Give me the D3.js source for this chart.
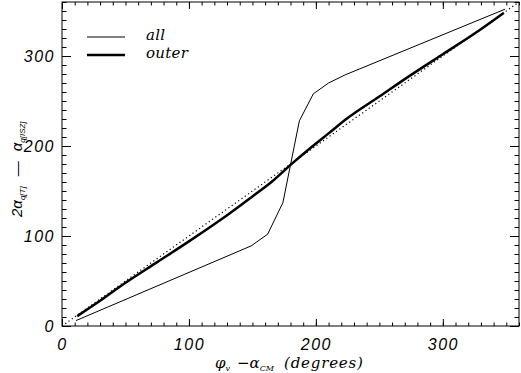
<!DOCTYPE html>
<html>
<head>
<meta charset="utf-8">
<script src="https://cdn.jsdelivr.net/npm/d3@7"></script>
<style>
	body { margin: 0; background: #fff; }
	svg { display: block; }
	.lbl { font-style: italic; fill: #000; }
</style>
</head>
<body>
<div id="chart"></div>
<script>
var width = 521;
var height = 373;

// "all" (thin line): x = phi_v - alpha_CM, y = 2 alpha_q[T] - alpha_q[ISZ]
var allX = [11, 149, 162, 174, 187, 198, 210, 223, 349];
var allY = [6, 89, 102, 137, 228, 258, 270, 279, 352];

// "outer" (thick line)
var outerX = [12, 30, 50, 75, 100, 125, 150, 165, 180, 195, 210, 225, 250, 275, 300, 325, 348];
var outerY = [11, 28, 48, 71, 94, 118, 144, 160, 179, 197, 214, 231, 255, 279, 302, 325, 348];

var majorTicks = [0, 100, 200, 300];
var minorTicks = d3.range(0, 361, 10);

var margin = { left: 62, top: 2, right: 2, bottom: 47 };
var sans = "'Liberation Sans', sans-serif";
var serif = "'DejaVu Serif', serif";

var svg = d3.select("#chart")
	.append("svg")
		.attr("width", width)
		.attr("height", height)
	;

svg.append("rect")
	.attr("width", width)
	.attr("height", height)
	.attr("fill", "#fff");

var x = d3.scaleLinear().domain([0, 360]).range([margin.left, width - margin.right]);
var y = d3.scaleLinear().domain([0, 360]).range([height - margin.bottom, margin.top]);

var x0 = x.range()[0], x1 = x.range()[1];
var y0 = y.range()[0], y1 = y.range()[1];

// ticks point inward on all four sides, IDL style
function drawAxis(axis, tx, ty, vals, len, labels) {
	var g = svg.append("g")
		.attr("transform", "translate(" + tx + "," + ty + ")")
		.call(axis.tickValues(vals).tickSize(-len).tickPadding(labels ? 12 : 0)
			.tickFormat(labels ? d3.format("d") : ""));
	g.select(".domain").remove();
	g.selectAll("line").attr("stroke", "#000").attr("stroke-width", 1);
	return g;
}

drawAxis(d3.axisBottom(x), 0, y0, minorTicks, 3.5, false);
drawAxis(d3.axisTop(x), 0, y1, minorTicks, 3.5, false);
drawAxis(d3.axisLeft(y), x0, 0, minorTicks, 4.5, false);
drawAxis(d3.axisRight(y), x1, 0, minorTicks, 4.5, false);

var bx = drawAxis(d3.axisBottom(x), 0, y0, majorTicks, 7, true);
drawAxis(d3.axisTop(x), 0, y1, majorTicks, 7, false);
var ly = drawAxis(d3.axisLeft(y), x0, 0, majorTicks, 9, true);
drawAxis(d3.axisRight(y), x1, 0, majorTicks, 9, false);

bx.selectAll("text")
	.attr("class", "lbl")
	.style("font-family", sans)
	.attr("font-size", 16)
	.attr("letter-spacing", 1.5)
	.attr("y", 13);
ly.selectAll("text")
	.attr("class", "lbl")
	.style("font-family", sans)
	.attr("font-size", 16)
	.attr("letter-spacing", 1.5)
	.attr("x", -7);

svg.append("rect")
	.attr("x", x0)
	.attr("y", y1)
	.attr("width", x1 - x0)
	.attr("height", y0 - y1)
	.attr("fill", "none")
	.attr("stroke", "#000")
	.attr("stroke-width", 1);

// plot area clip
svg.append("clipPath").attr("id", "clip")
	.append("rect")
		.attr("x", x0).attr("y", y1)
		.attr("width", x1 - x0).attr("height", y0 - y1);

var line = d3.line()
	.x(d => x(d[0]))
	.y(d => y(d[1]));

// y = x reference
svg.append("path")
	.attr("clip-path", "url(#clip)")
	.attr("d", line([[0, 0], [360, 360]]))
	.attr("fill", "none")
	.attr("stroke", "#000")
	.attr("stroke-width", 1.2)
	.attr("stroke-dasharray", "1.2,2.8");

svg.append("path")
	.attr("d", line(d3.zip(allX, allY)))
	.attr("fill", "none")
	.attr("stroke", "#000")
	.attr("stroke-width", 1);

svg.append("path")
	.attr("d", d3.line().curve(d3.curveMonotoneX).x(d => x(d[0])).y(d => y(d[1]))(d3.zip(outerX, outerY)))
	.attr("fill", "none")
	.attr("stroke", "#000")
	.attr("stroke-width", 2.5);

// legend
var legend = [
	{ name: "all", w: 1 },
	{ name: "outer", w: 2.5 }
];
var lg = svg.append("g");
legend.forEach(function (d, i) {
	var yy = 37 + i * 18;
	lg.append("line")
		.attr("x1", 87).attr("x2", 125)
		.attr("y1", yy).attr("y2", yy)
		.attr("stroke", "#000")
		.attr("stroke-width", d.w);
	lg.append("text")
		.attr("class", "lbl")
		.attr("x", 146)
		.attr("y", yy + 3)
		.style("font-family", serif)
		.attr("font-size", 15)
		.attr("letter-spacing", 0.3)
		.text(d.name);
});

// axis titles
var xt = svg.append("text")
	.attr("class", "lbl")
	.attr("x", 215)
	.attr("y", 368)
	.attr("font-size", 15)
	.style("font-family", serif);
xt.append("tspan").text("\u03c6");
xt.append("tspan").attr("font-size", 8).attr("dy", 3).text("v");
xt.append("tspan").attr("dy", -3).attr("dx", 7).text("\u2212\u03b1");
xt.append("tspan").attr("font-size", 8).attr("dy", 3).text("CM");
xt.append("tspan").attr("dy", -3).attr("dx", 10).attr("letter-spacing", 0.8).text("(degrees)");

var yt = svg.append("text")
	.attr("class", "lbl")
	.attr("transform", "translate(22,217) rotate(-90)")
	.attr("font-size", 15)
	.style("font-family", sans);
yt.append("tspan").text("2\u03b1");
yt.append("tspan").attr("font-size", 8).attr("dy", 3).text("q[T]");
yt.append("tspan").attr("dy", -3).attr("dx", 10).text("\u2014");
yt.append("tspan").attr("dx", 10).text("\u03b1");
yt.append("tspan").attr("font-size", 8).attr("dy", 3).text("q[ISZ]");
</script>
</body>
</html>
